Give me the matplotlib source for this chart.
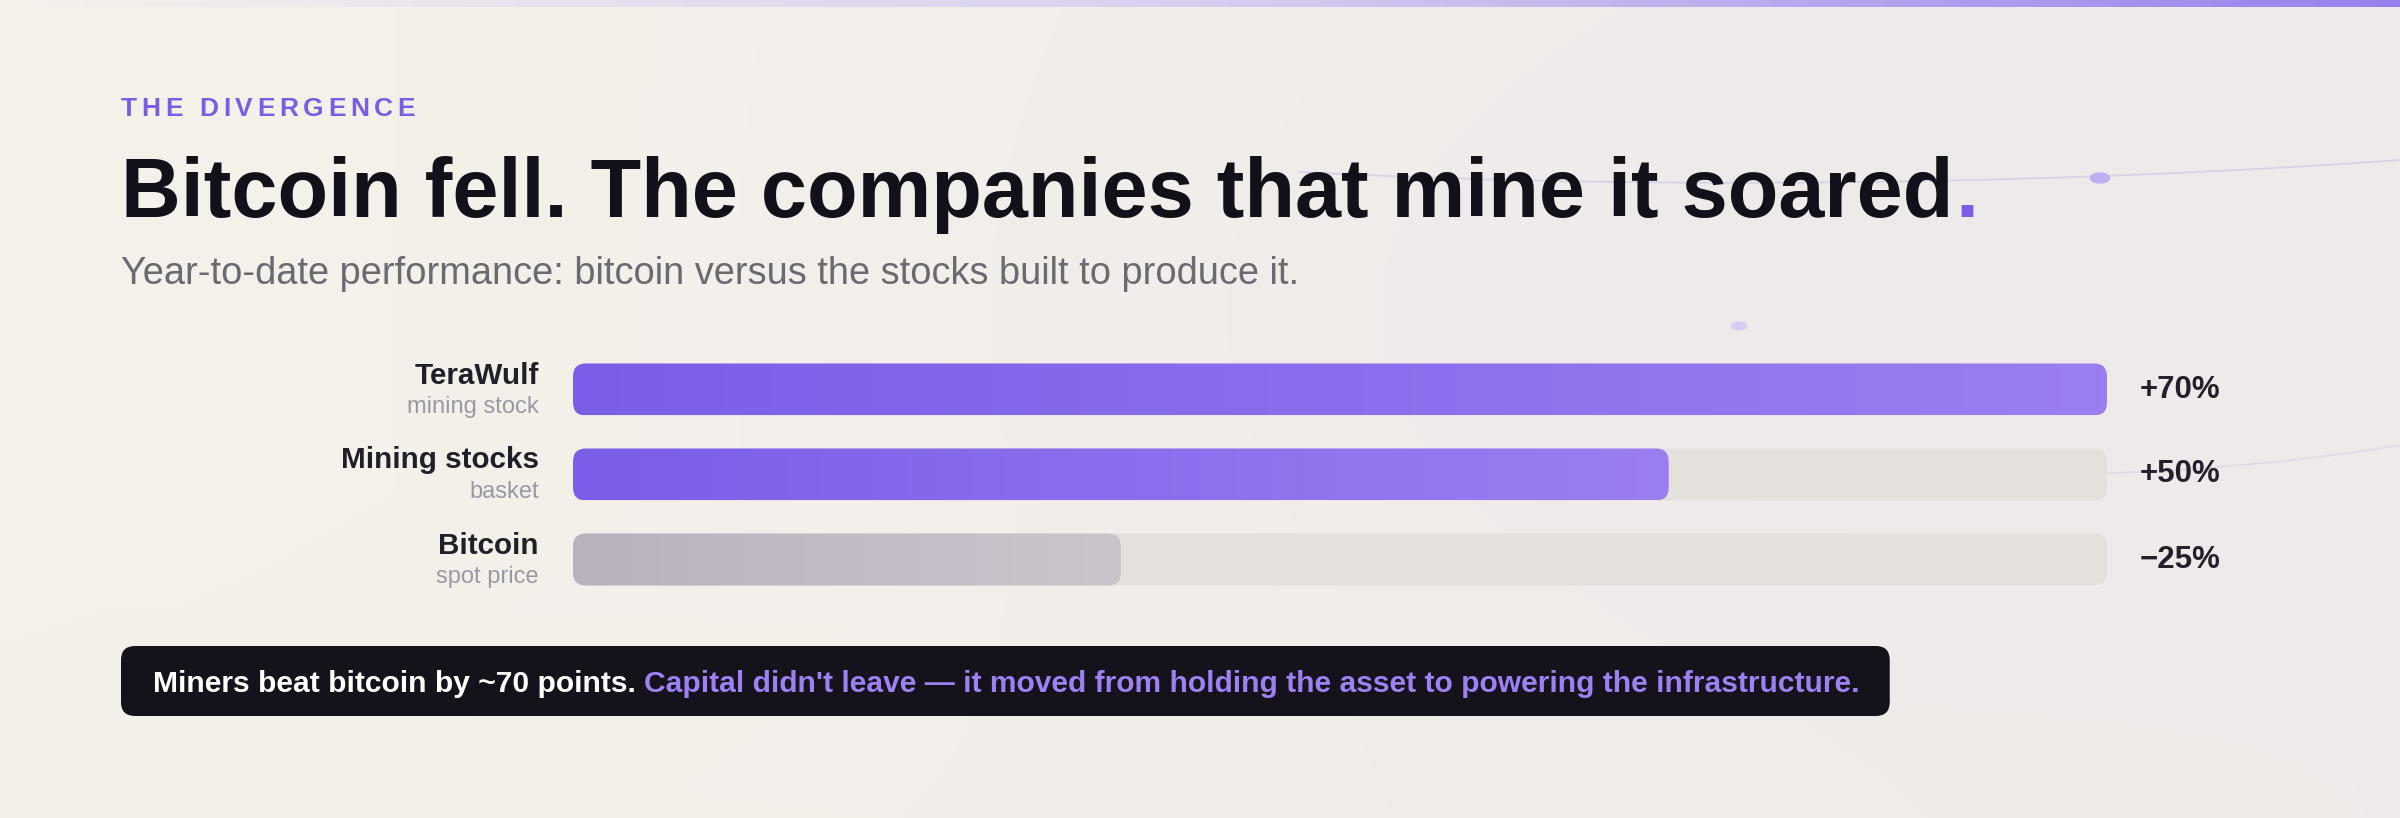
import numpy as np
import matplotlib
matplotlib.use('Agg')
import matplotlib.pyplot as plt
from matplotlib.patches import FancyBboxPatch, Ellipse
from matplotlib.colors import LinearSegmentedColormap, to_rgb
from matplotlib.font_manager import FontProperties, findfont
from matplotlib.ft2font import FT2Font

plt.rcParams['font.family'] = ['Liberation Sans', 'DejaVu Sans']

# data
names = ['TeraWulf', 'Mining stocks', 'Bitcoin']
sublabels = ['mining stock', 'basket', 'spot price']
ytd_pct = [70, 50, -25]
value_labels = ['+70%', '+50%', '\u221225%']

eyebrow = 'THE DIVERGENCE'
title = 'Bitcoin fell. The companies that mine it soared'
subtitle = 'Year-to-date performance: bitcoin versus the stocks built to produce it.'
callout_lead = 'Miners beat bitcoin by ~70 points. '
callout_rest = "Capital didn't leave \u2014 it moved from holding the asset to powering the infrastructure."

W, H = 2400, 818
fig = plt.figure(figsize=(W / 100, H / 100), dpi=100)
renderer = fig.canvas.get_renderer()

# full-figure axes in pixel units for background and headings
bg = fig.add_axes([0, 0, 1, 1])
bg.set_xlim(0, W)
bg.set_ylim(H, 0)
bg.axis('off')

# background: cream on the left, a touch of lavender on the right
xx, yy = np.meshgrid(np.linspace(0, 1, 600), np.linspace(0, 1, 205))
left = np.array(to_rgb('#f5f2eb'))
right = np.array(to_rgb('#efebea'))
img = left[None, None, :] * (1 - xx[..., None]) + right[None, None, :] * xx[..., None]
glow = np.exp(-(((xx - 0.72) / 0.25) ** 2 + ((yy - 0.38) / 0.45) ** 2))
img = img * (1 - 0.25 * glow[..., None]) + np.array(to_rgb('#e9e3ec')) * 0.25 * glow[..., None]
bottom = np.clip((yy - 0.6) / 0.4, 0, 1) * (1 - xx)
img = img * (1 - 0.3 * bottom[..., None]) + np.array(to_rgb('#efebe2')) * 0.3 * bottom[..., None]
bg.imshow(img, extent=(0, W, H, 0), aspect='auto', zorder=0, interpolation='bicubic')

# top accent strip
strip = LinearSegmentedColormap.from_list('strip', ['#f5f2eb', '#d8cff0', '#9a80ec'])
bg.imshow(np.linspace(0, 1, 512)[None, :], cmap=strip, extent=(0, W, 7, 0),
          aspect='auto', zorder=1)


# faint decorative curves and dots
def curve(p0, p1, p2, p3, **kw):
    t = np.linspace(0, 1, 200)[:, None]
    pts = ((1 - t) ** 3) * p0 + 3 * ((1 - t) ** 2) * t * p1 + 3 * (1 - t) * t ** 2 * p2 + t ** 3 * p3
    bg.plot(pts[:, 0], pts[:, 1], **kw)


curve(np.array([1300, 172]), np.array([1650, 190]), np.array([2050, 185]), np.array([2400, 160]),
      color='#cfc6ea', lw=1.3, alpha=0.7, zorder=1)
curve(np.array([1640, 462]), np.array([1900, 485]), np.array([2200, 480]), np.array([2400, 445]),
      color='#d6cfe6', lw=1.2, alpha=0.6, zorder=1)
bg.add_patch(Ellipse((2100, 178), 19, 10, color='#bfaef2', zorder=1))
bg.add_patch(Ellipse((1739, 326), 15, 8, color='#d6ccf2', zorder=1))


def fit(t, target):
    w = t.get_window_extent(renderer).width
    t.set_fontsize(t.get_fontsize() * target / w)


def tracked(x, y, s, size, tracking, weight='normal', **kw):
    # letter-spaced text: one glyph at a time, advance + tracking
    font = FT2Font(findfont(FontProperties(family='Liberation Sans', weight=weight)), hinting_factor=1)
    font.set_size(size, 100)
    for ch in s:
        if ch != ' ':
            bg.text(x, y, ch, fontsize=size, fontweight=weight, va='baseline', ha='left', **kw)
        g = font.load_char(ord(ch))
        x += g.linearHoriAdvance / 65536 + tracking


# headings
tracked(121, 116, eyebrow, 19, 4.8, weight='bold', color='#7b5ce6', zorder=3)
t = bg.text(121, 217, title, fontsize=64, fontweight='bold', color='#141019',
            va='baseline', ha='left', zorder=3)
fit(t, 1834)
x_end = t.get_window_extent(renderer).x1
bg.text(x_end + 2, 217, '.', fontsize=t.get_fontsize(), fontweight='bold', color='#7b5ce6',
        va='baseline', ha='left', zorder=3)
st = bg.text(121, 284, subtitle, fontsize=27, color='#6d6971', va='baseline', ha='left', zorder=3)
fit(st, 1176)

# bars
ax = fig.add_axes([573 / W, 1 - 602 / H, 1534 / W, 255 / H])
ax.axis('off')
xmax = max(abs(v) for v in ytd_pct)
bar_h = 52 / 85
px_x = 1534 / xmax
px_y = 85
r = 13 / px_x
style = f'round,pad=0,rounding_size={r}'

purple = LinearSegmentedColormap.from_list('purple', ['#7c5de8', '#9b7ef1'])
grey = LinearSegmentedColormap.from_list('grey', ['#b7b2be', '#cac5cd'])

for i, (v, name, sub, lab) in enumerate(zip(ytd_pct, names, sublabels, value_labels)):
    track = FancyBboxPatch((0, i - bar_h / 2), xmax, bar_h, boxstyle=style,
                           mutation_aspect=px_x / px_y,
                           facecolor='#e4e0dc', edgecolor='none', zorder=1)
    ax.add_patch(track)
    length = abs(v)
    patch = FancyBboxPatch((0, i - bar_h / 2), length, bar_h, boxstyle=style,
                           mutation_aspect=px_x / px_y,
                           facecolor='none', edgecolor='none', zorder=2)
    ax.add_patch(patch)
    im = ax.imshow(np.linspace(0, 1, 256)[None, :], cmap=purple if v > 0 else grey,
                   extent=(0, length, i + bar_h / 2, i - bar_h / 2), aspect='auto', zorder=2)
    im.set_clip_path(patch)

    ax.annotate(name, xy=(0, i), xytext=(-34, 6), textcoords='offset pixels',
                ha='right', va='baseline', fontsize=21.3, fontweight='bold', color='#231f29')
    ax.annotate(sub, xy=(0, i), xytext=(-34, -23), textcoords='offset pixels',
                ha='right', va='baseline', fontsize=17, color='#9c98a2')
    ax.annotate(lab, xy=(xmax, i), xytext=(33, -8), textcoords='offset pixels',
                ha='left', va='baseline', fontsize=22.5, fontweight='bold', color='#241f2b')

ax.set_xlim(0, xmax)
ax.set_ylim(len(names) - 0.5, -0.5)

# callout
c1 = bg.text(153, 692, callout_lead, fontsize=21.6, fontweight='bold', color='white',
             va='baseline', ha='left', zorder=4)
x1 = c1.get_window_extent(renderer).x1
c2 = bg.text(x1, 692, callout_rest, fontsize=21.6, fontweight='bold', color='#9d80f2',
             va='baseline', ha='left', zorder=4)
x2 = c2.get_window_extent(renderer).x1
bg.add_patch(FancyBboxPatch((121, 646), x2 + 30 - 121, 70,
                            boxstyle='round,pad=0,rounding_size=14',
                            facecolor='#16121c', edgecolor='none', zorder=3))

fig.savefig('out.png', dpi=100)
